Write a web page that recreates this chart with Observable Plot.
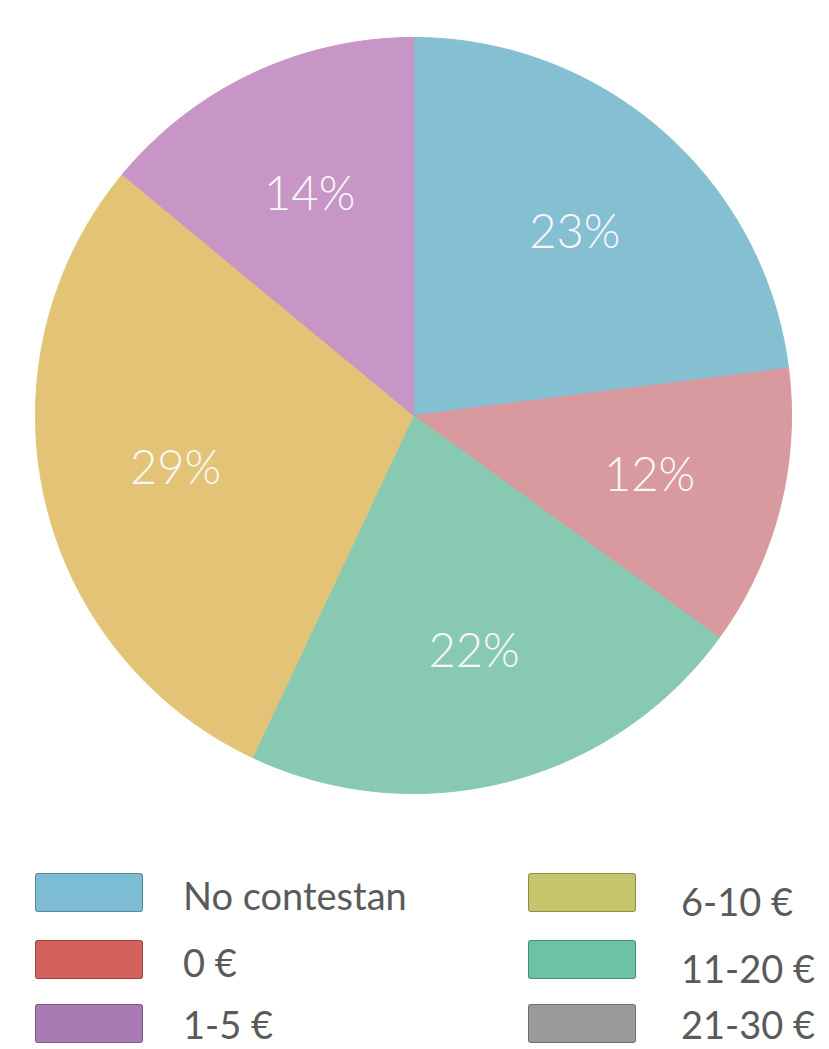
<!DOCTYPE html>
<html>
<head>
<meta charset="utf-8">
<script src="https://cdn.jsdelivr.net/npm/d3@7"></script>
<script src="https://cdn.jsdelivr.net/npm/@observablehq/plot@0.6"></script>
<style>
  html, body { margin: 0; padding: 0; background: #fff; }
  #wrap { position: relative; width: 829px; height: 1049px; overflow: hidden; }
  #chart svg { display: block; }
  .lg-sw { position: absolute; width: 108px; height: 39px; box-sizing: border-box;
           border: 1.5px solid rgba(0,0,0,0.28); border-radius: 3px; }
  .lg-tx { position: absolute; font-family: Lato, "Open Sans", sans-serif; font-weight: 400;
           font-size: 38px; color: #5a5a5a; white-space: nowrap; line-height: 1; }
</style>
</head>
<body>
<div id="wrap">
  <div id="chart"></div>
  <div id="legend"></div>
</div>
<script>
// Pie slices, clockwise from 12 o'clock
const sliceLabels = ["No contestan", "0 €", "11-20 €", "6-10 €", "1-5 €"];
const sliceValues = [23, 12, 22, 29, 14];
const sliceColors = ["#85bfd2", "#d89a9e", "#88c9b2", "#e3c476", "#c795c6"];

// Legend entries
const legendLabels = ["No contestan", "0 €", "1-5 €", "6-10 €", "11-20 €", "21-30 €"];
const legendColors = ["#7dbdd4", "#d5615d", "#a97bb5", "#c5c66b", "#6cc2a6", "#9a9a9a"];

// Build slice geometry from the values
const total = d3.sum(sliceValues);
let acc = 0;
const slices = sliceLabels.map((label, i) => {
  const a0 = acc / total * 2 * Math.PI;
  acc += sliceValues[i];
  const a1 = acc / total * 2 * Math.PI;
  return {label, value: sliceValues[i], a0, a1};
});
const points = [];
for (const s of slices) {
  points.push({label: s.label, x: 0, y: 0});
  const n = Math.max(2, Math.ceil((s.a1 - s.a0) / (Math.PI / 360)));
  for (let k = 0; k <= n; k++) {
    const a = s.a0 + (s.a1 - s.a0) * k / n;
    points.push({label: s.label, x: Math.sin(a), y: Math.cos(a)});
  }
  points.push({label: s.label, x: 0, y: 0});
}
const labelR = 0.645;
const labels = slices.map(s => {
  const m = (s.a0 + s.a1) / 2;
  return {x: labelR * Math.sin(m), y: labelR * Math.cos(m), text: s.value + "%"};
});

const chart = Plot.plot({
  width: 829,
  height: 855,
  margin: 0,
  x: {domain: [-1, 1], range: [35, 791], axis: null},
  y: {domain: [-1, 1], range: [793, 37], axis: null},
  color: {domain: sliceLabels, range: sliceColors},
  marks: [
    Plot.line(points, {x: "x", y: "y", z: "label", fill: "label", stroke: "label", strokeWidth: 1, curve: "linear"}),
    Plot.text(labels, {x: "x", y: "y", text: "text", fill: "#f8f8f8", fontSize: 47,
      fontFamily: "Lato, 'Open Sans', sans-serif", fontWeight: 300})
  ]
});
document.getElementById("chart").appendChild(chart);

// Legend (HTML, below the SVG)
const legend = document.getElementById("legend");
const rowsTop = [873, 940, 1004];
legendLabels.forEach((lab, i) => {
  const col = Math.floor(i / 3), row = i % 3;
  const sw = document.createElement("div");
  sw.className = "lg-sw";
  sw.style.left = (col === 0 ? 35 : 528) + "px";
  sw.style.top = rowsTop[row] + "px";
  sw.style.background = legendColors[i];
  legend.appendChild(sw);
  const tx = document.createElement("div");
  tx.className = "lg-tx";
  tx.textContent = lab;
  tx.style.left = (col === 0 ? 183 : 681) + "px";
  tx.style.top = (rowsTop[row] + (row === 2 ? 1 : (col === 0 ? 3 : 9))) + "px";
  legend.appendChild(tx);
});
</script>
</body>
</html>
